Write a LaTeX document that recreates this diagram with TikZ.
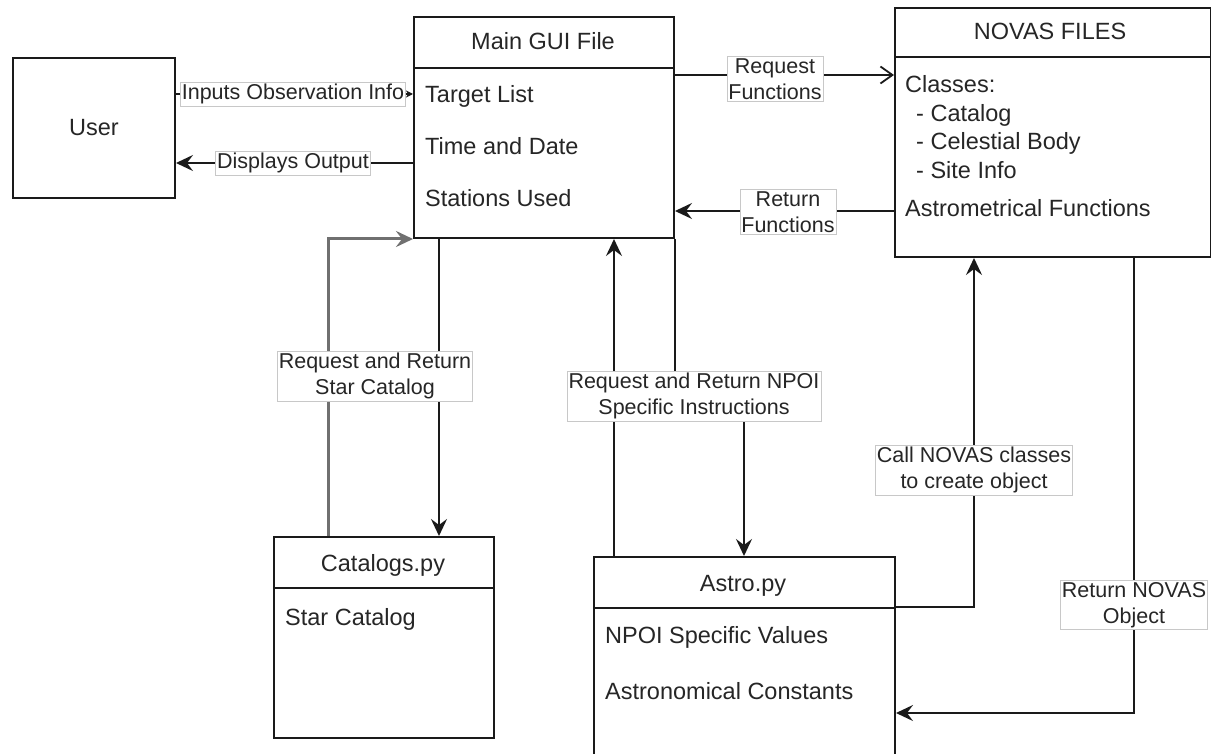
\documentclass[tikz,border=0pt]{standalone}
\usepackage{fontspec}
\setmainfont{Liberation Sans}
\usetikzlibrary{arrows.meta,calc}
\definecolor{txt}{HTML}{262626}
\definecolor{lblc}{HTML}{C8C8C8}
\definecolor{edge}{HTML}{1A1A1A}
\definecolor{grayedge}{HTML}{707070}
\begin{document}
\begin{tikzpicture}[x=1pt,y=-1pt,
  box/.style={draw=edge, line width=2pt, anchor=north west, inner sep=0pt, fill=white},
  hline/.style={draw=edge, line width=2pt},
  btxt/.style={text=txt, font=\fontsize{23.5}{28.5}\selectfont, inner sep=0pt},
  conn/.style={draw=edge, line width=2pt},
  grayconn/.style={draw=grayedge, line width=3pt},
  tipc/.style={-{Stealth[length=17pt,width=16pt,inset=6pt]}},
  tipo/.style={-{Straight Barb[length=12pt,width=17pt,line width=1.8pt]}},
  tips/.style={-{Stealth[length=7pt,width=7pt,inset=2pt]}},
  lbl/.style={draw=lblc, fill=white, line width=0.7pt, text=txt, align=center,
    font=\fontsize{21.5}{26}\selectfont, inner xsep=1.5pt, inner ysep=2pt}
]
\clip (0,0) rectangle (1211,754);
\fill[white] (0,0) rectangle (1211,754);

% ---------------- boxes ----------------
\node[box, minimum width=162pt, minimum height=140pt] (user) at (12,57) {};
\node[btxt] (usert) at (user.center) {User};

\node[box, minimum width=260pt, minimum height=221pt] (gui) at (413,16) {};
\draw[hline] ([yshift=-52pt]gui.north west) -- ([yshift=-52pt]gui.north east);
\node[btxt, anchor=base] (guit) at (543,50) {Main GUI File};
\node[btxt, anchor=base west] (gui1) at (425,103) {Target List};
\node[btxt, anchor=base west] (gui2) at (425,155) {Time and Date};
\node[btxt, anchor=base west] (gui3) at (425,207) {Stations Used};

\node[box, minimum width=316pt, minimum height=249pt] (novas) at (894,7) {};
\draw[hline] ([yshift=-50pt]novas.north west) -- ([yshift=-50pt]novas.north east);
\node[btxt, anchor=base] (novast) at (1050,40) {NOVAS FILES};
\node[btxt, anchor=base west] (nov1) at (905,93) {Classes:};
\node[btxt, anchor=base west] (nov2) at (916,121.5) {- Catalog};
\node[btxt, anchor=base west] (nov3) at (916,150) {- Celestial Body};
\node[btxt, anchor=base west] (nov4) at (916,178.5) {- Site Info};
\node[btxt, anchor=base west] (nov5) at (905,217) {Astrometrical Functions};

\node[box, minimum width=220pt, minimum height=201pt] (cat) at (273,536) {};
\draw[hline] ([yshift=-52pt]cat.north west) -- ([yshift=-52pt]cat.north east);
\node[btxt, anchor=base] (catt) at (383,571) {Catalogs.py};
\node[btxt, anchor=base west] (cat1) at (285,625) {Star Catalog};

\node[box, minimum width=301pt, minimum height=215pt] (astro) at (593,556) {};
\draw[hline] ([yshift=-52pt]astro.north west) -- ([yshift=-52pt]astro.north east);
\node[btxt, anchor=base] (astrot) at (743,591) {Astro.py};
\node[btxt, anchor=base west] (ast1) at (605,643) {NPOI Specific Values};
\node[btxt, anchor=base west] (ast2) at (605,699) {Astronomical Constants};

% ---------------- helper coordinates ----------------
\coordinate (yIn) at (0,94);
\coordinate (yOut) at (0,163);
\coordinate (yReq) at (0,75);
\coordinate (yRet) at (0,211);
\coordinate (xCatUp) at (328,0);
\coordinate (xCatDn) at (439,0);
\coordinate (xAstUp) at (614,0);
\coordinate (xNpoi) at (744,0);
\coordinate (yNpoi) at (0,396);
\coordinate (xCall) at (974,0);
\coordinate (yCall) at (0,607);
\coordinate (xRetN) at (1134,0);
\coordinate (yRetN) at (0,713);

% ---------------- connectors ----------------
\draw[conn, tips] (user.east |- yIn) -- (gui.west |- yIn);
\draw[conn, tipc] (gui.west |- yOut) -- (user.east |- yOut);
\draw[conn, tipo] (gui.east |- yReq) -- (novas.west |- yReq);
\draw[conn, tipc] (novas.west |- yRet) -- (gui.east |- yRet);
\draw[grayconn, tipc] (cat.north -| xCatUp) |- (gui.south west);
\draw[conn, tipc] (gui.south -| xCatDn) -- (cat.north -| xCatDn);
\draw[conn, tipc] (astro.north -| xAstUp) -- (gui.south -| xAstUp);
\draw[conn, tipc] (gui.south east) -- (gui.south east |- yNpoi) -| (astro.north -| xNpoi);
\draw[conn, tipc] (astro.east |- yCall) -| (novas.south -| xCall);
\draw[conn, tipc] (novas.south -| xRetN) |- (astro.east |- yRetN);

% ---------------- labels ----------------
\node[lbl] (l1) at (293,94) {Inputs Observation Info};
\node[lbl] (l2) at (293,163) {Displays Output};
\node[lbl] (l3) at (775,79) {Request\\Functions};
\node[lbl] (l4) at (788,212) {Return\\Functions};
\node[lbl] (l5) at (375,376) {Request and Return\\Star Catalog};
\node[lbl] (l6) at (694,396) {Request and Return NPOI\\Specific Instructions};
\node[lbl] (l7) at (974,470) {Call NOVAS classes\\to create object};
\node[lbl] (l8) at (1134,605) {Return NOVAS\\Object};
\end{tikzpicture}
\end{document}
